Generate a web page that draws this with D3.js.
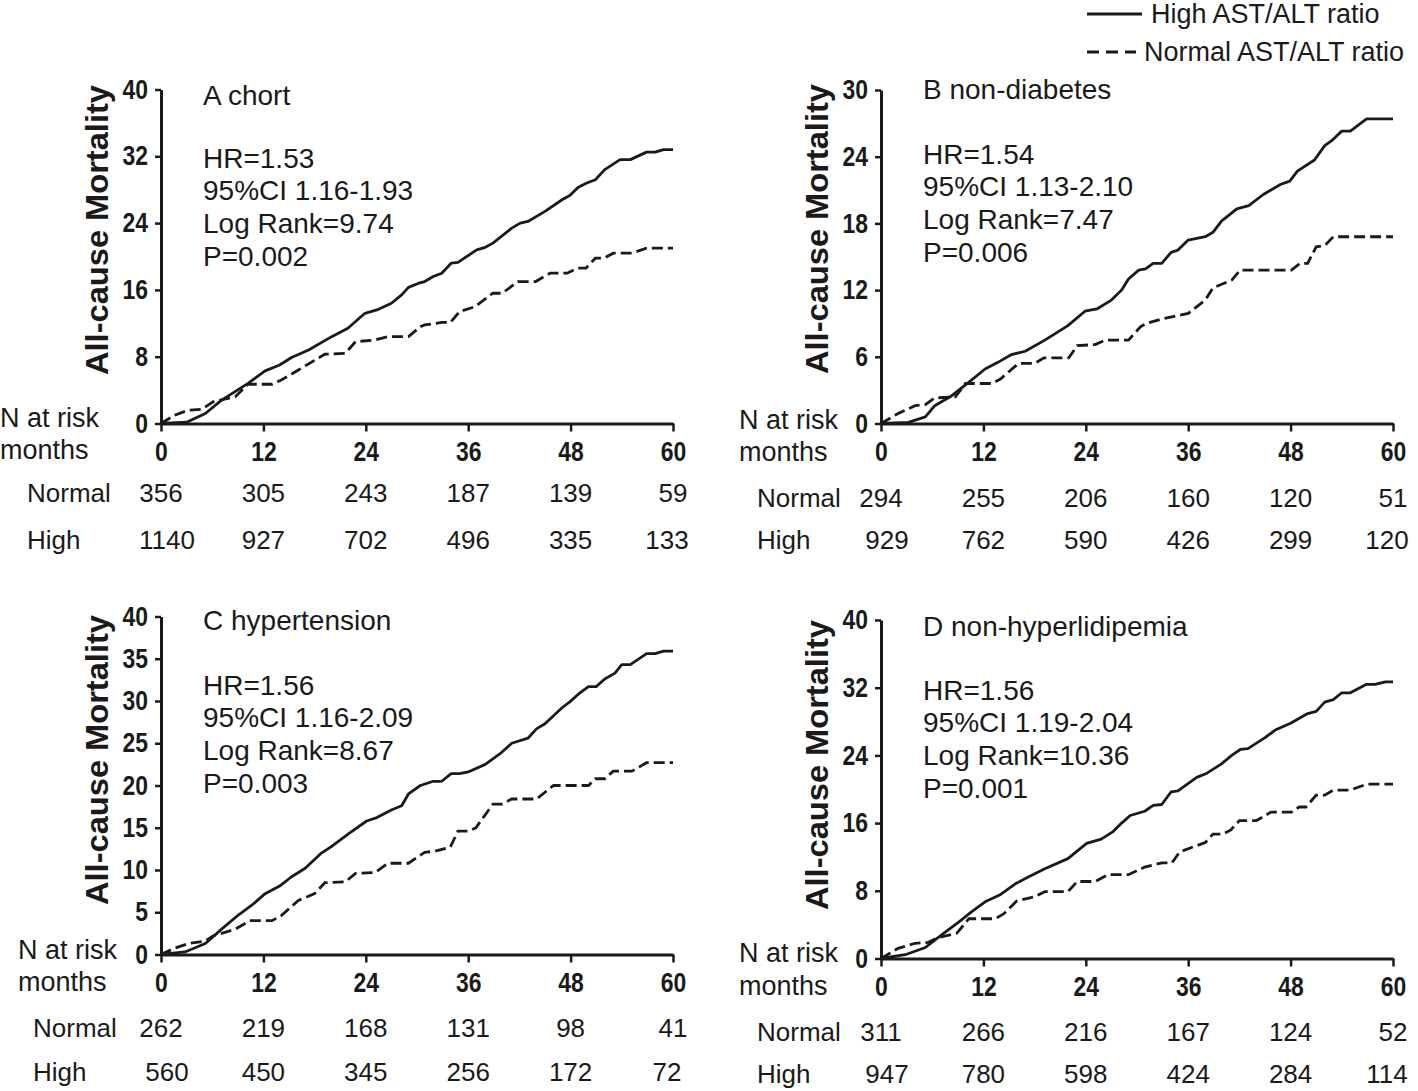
<!DOCTYPE html>
<html><head><meta charset="utf-8">
<script src="https://cdn.jsdelivr.net/npm/d3@7"></script>
<style>
body{margin:0;background:#fff;}
text{font-family:"Liberation Sans",Arial,sans-serif;fill:#1a1a1a;}
</style></head>
<body>
<svg id="c" width="1418" height="1091"></svg>
<script>
// ---------- data ----------
const monthTicks = [0, 12, 24, 36, 48, 60];
const panelTitles = ["A chort", "B non-diabetes", "C hypertension", "D non-hyperlidipemia"];
const statsA = ["HR=1.53", "95%CI 1.16-1.93", "Log Rank=9.74", "P=0.002"];
const statsB = ["HR=1.54", "95%CI 1.13-2.10", "Log Rank=7.47", "P=0.006"];
const statsC = ["HR=1.56", "95%CI 1.16-2.09", "Log Rank=8.67", "P=0.003"];
const statsD = ["HR=1.56", "95%CI 1.19-2.04", "Log Rank=10.36", "P=0.001"];
const yMaxes = [40, 30, 40, 40];
const yStepTicks = [[0,8,16,24,32,40],[0,6,12,18,24,30],[0,5,10,15,20,25,30,35,40],[0,8,16,24,32,40]];
const riskNormalA = [356, 305, 243, 187, 139, 59];
const riskHighA   = [1140, 927, 702, 496, 335, 133];
const riskNormalB = [294, 255, 206, 160, 120, 51];
const riskHighB   = [929, 762, 590, 426, 299, 120];
const riskNormalC = [262, 219, 168, 131, 98, 41];
const riskHighC   = [560, 450, 345, 256, 172, 72];
const riskNormalD = [311, 266, 216, 167, 124, 52];
const riskHighD   = [947, 780, 598, 424, 284, 114];
const legendLabels = ["High AST/ALT ratio", "Normal AST/ALT ratio"];

const highA = [[0,0],[3,0.15],[5.2,1.2],[7.1,2.8],[10.2,4.8],[12.2,6.3],[13.9,7.0],[15.3,7.9],[17.3,8.8],[20,10.4],[21.9,11.4],[23.9,13.2],[25.3,13.6],[27,14.4],[28.2,15.4],[29,16.3],[30.2,16.8],[30.9,17.0],[31.9,17.6],[32.9,18.0],[34,19.2],[34.8,19.3],[37,20.8],[38,21.1],[38.9,21.6],[41.1,23.4],[42.1,24.0],[43,24.2],[45,25.4],[47,26.8],[47.9,27.3],[48.9,28.3],[49.9,28.8],[50.9,29.2],[52,30.4],[53.8,31.6],[55,31.6],[56.9,32.5],[57.9,32.5],[58.9,32.8],[60,32.8]];
const normalA = [[0,0],[1.6,1.0],[3.2,1.6],[4.8,1.7],[6.1,2.6],[8.7,3.2],[10.2,4.7],[13,4.7],[14.1,5.2],[16.1,6.4],[19.2,8.3],[21.6,8.4],[22.8,9.8],[25.1,10.0],[26.6,10.4],[29,10.4],[30.4,11.6],[30.9,11.8],[32.9,12.1],[33.9,12.1],[35,13.4],[36.8,14.0],[38.9,15.6],[40,15.6],[41.8,17.0],[43.9,17.0],[45.6,18.0],[47.6,18.0],[48.8,18.6],[49.8,18.6],[50.9,19.8],[51.9,19.8],[53,20.4],[55.2,20.4],[56.9,21.0],[60,21.0]];
const highB = [[0,0],[3.2,0.1],[5.2,0.6],[6.3,1.6],[8.3,2.5],[10.6,3.9],[12.2,4.9],[13.7,5.5],[15.3,6.2],[16.9,6.5],[19.2,7.5],[21.9,8.8],[23.9,10.1],[25.3,10.3],[27,11.1],[28.2,12.0],[29,13.0],[30.2,13.8],[31,13.9],[31.9,14.4],[32.9,14.4],[34,15.4],[34.8,15.6],[36,16.5],[38,16.8],[38.9,17.2],[39.9,18.2],[41.7,19.3],[43.1,19.6],[44.8,20.6],[46.8,21.5],[47.9,21.8],[48.8,22.7],[50.8,23.7],[52,25.0],[52.9,25.5],[54,26.3],[55,26.3],[56.9,27.4],[60,27.4]];
const normalB = [[0,0],[2,0.9],[4,1.6],[5.2,1.7],[6.3,2.3],[8.7,2.4],[9.9,3.6],[13,3.6],[14,4.0],[16.1,5.4],[18,5.4],[19.1,5.9],[22,5.9],[23,7.0],[25.1,7.1],[26.3,7.5],[29,7.5],[30.4,8.7],[31.1,9.0],[32.9,9.4],[36,9.9],[38,11.1],[38.9,12.2],[41.1,12.9],[42.1,13.8],[48.1,13.8],[49.1,14.4],[50,14.4],[51,15.9],[52,16.0],[53,16.8],[60,16.8]];
const highC = [[0,0],[2.8,0.3],[5.2,1.3],[7.1,3.0],[9.1,4.7],[10.6,5.8],[12.2,7.2],[13.9,8.1],[15.3,9.2],[16.9,10.2],[18.8,12.0],[20,12.8],[22,14.3],[24.1,15.8],[25.3,16.2],[27,17.1],[28.2,17.6],[29,19.0],[30.4,20.0],[31.9,20.5],[32.9,20.5],[34,21.4],[35,21.4],[36,21.6],[38,22.5],[39.9,23.9],[41.1,25.0],[43,25.6],[44,26.7],[45,27.3],[47,29.2],[47.9,29.9],[48.9,30.8],[50.1,31.7],[51,31.7],[52,32.6],[53.2,33.3],[54,34.3],[55,34.3],[56.9,35.6],[57.9,35.6],[58.9,35.9],[60,35.9]];
const normalC = [[0,0],[1.6,0.75],[3.2,1.3],[5.2,1.6],[6.1,2.2],[8.7,3.0],[10.4,4.0],[13,4.0],[14.1,4.6],[16.1,6.4],[18,7.2],[19.2,8.5],[21.6,8.6],[22.8,9.6],[25.1,9.7],[26.6,10.8],[29,10.8],[30.9,12.1],[32,12.2],[33.9,12.7],[34.8,14.6],[36,14.6],[36.9,15.0],[38.9,17.8],[40,17.8],[41.1,18.4],[44,18.4],[46,20.0],[50.1,20.0],[50.9,20.8],[52,20.8],[53,21.7],[55.2,21.7],[56.9,22.7],[60,22.7]];
const highD = [[0,0],[3,0.5],[5.2,1.3],[7.1,2.8],[9.1,4.3],[10.6,5.5],[12.2,6.7],[13.9,7.5],[15.7,8.8],[17.2,9.6],[19.2,10.6],[21.9,11.8],[24.1,13.6],[25.8,14.1],[27.2,15.0],[28.2,16.0],[29.2,16.9],[30.9,17.4],[31.9,18.1],[32.9,18.2],[34,19.7],[34.8,19.8],[37,21.4],[38.2,21.9],[39.9,23.0],[41.1,24.0],[42.1,24.7],[43,24.8],[45,26.1],[46.2,27.0],[48,27.8],[49.9,28.9],[51,29.2],[52,30.3],[53,30.6],[54,31.4],[55,31.4],[56.9,32.4],[57.9,32.4],[59.1,32.7],[60,32.7]];
const normalD = [[0,0],[2,1.2],[4,1.8],[5.5,1.9],[6.5,2.4],[8.9,3.0],[10.3,4.7],[13.4,4.7],[14.4,5.3],[15.9,6.8],[18,7.3],[19.2,7.9],[21.9,7.9],[23,9.1],[25.1,9.1],[26.6,9.9],[29,9.9],[30.9,10.8],[32.9,11.3],[34.1,11.3],[35,12.6],[36.9,13.3],[38,13.7],[38.9,14.7],[40.1,14.7],[41,15.2],[42,16.3],[44,16.3],[45.7,17.3],[48.1,17.3],[49,17.9],[49.8,17.9],[51,19.3],[52,19.3],[53,19.9],[55,19.9],[56.9,20.6],[60,20.6]];

// ---------- layout ----------
const panels = [
  {title:panelTitles[0], stats:statsA, high:highA, normal:normalA, rn:riskNormalA, rh:riskHighA, ymax:yMaxes[0], yt:yStepTicks[0],
   x0:161, x1:673, yb:423.5, yt0:89.5, titleY:95, statY:158, rowN:493, rowH:540, nar:418, mon:450, labX:0, rowLabX:27, ylabX:97, ylabY:230},
  {title:panelTitles[1], stats:statsB, high:highB, normal:normalB, rn:riskNormalB, rh:riskHighB, ymax:yMaxes[1], yt:yStepTicks[1],
   x0:881, x1:1393, yb:423.5, yt0:90, titleY:89, statY:154, rowN:498, rowH:540, nar:420, mon:452, labX:739, rowLabX:757, ylabX:817, ylabY:229},
  {title:panelTitles[2], stats:statsC, high:highC, normal:normalC, rn:riskNormalC, rh:riskHighC, ymax:yMaxes[2], yt:yStepTicks[2],
   x0:161, x1:673, yb:954.5, yt0:616.5, titleY:620, statY:685, rowN:1028, rowH:1072, nar:950, mon:982, labX:18, rowLabX:33, ylabX:97, ylabY:760},
  {title:panelTitles[3], stats:statsD, high:highD, normal:normalD, rn:riskNormalD, rh:riskHighD, ymax:yMaxes[3], yt:yStepTicks[3],
   x0:881, x1:1393, yb:958.5, yt0:620, titleY:626, statY:690, rowN:1032, rowH:1074, nar:953, mon:986, labX:739, rowLabX:757, ylabX:817, ylabY:765}
];

const svg = d3.select("#c");
const ink = "#1a1a1a";

panels.forEach(p => {
  const x = d3.scaleLinear().domain([0,60]).range([p.x0, p.x1]);
  const y = d3.scaleLinear().domain([0,p.ymax]).range([p.yb, p.yt0]);
  const g = svg.append("g");

  // axes
  const ya = g.append("g").attr("transform",`translate(${p.x0},0)`)
    .call(d3.axisLeft(y).tickValues(p.yt).tickSize(6).tickSizeOuter(0).tickPadding(7).tickFormat(d3.format("d")));
  const xa = g.append("g").attr("transform",`translate(0,${p.yb})`)
    .call(d3.axisBottom(x).tickValues(monthTicks).tickSize(8).tickSizeOuter(0).tickPadding(10).tickFormat(d3.format("d")));
  [ya, xa].forEach(a => {
    a.select(".domain").attr("stroke", ink).attr("stroke-width", 3);
    a.selectAll(".tick line").attr("stroke", ink).attr("stroke-width", 2.5);
    a.selectAll(".tick text").attr("font-size", 27).attr("font-weight", "bold")
      .attr("font-family", "'Liberation Sans',Arial,sans-serif").attr("fill", ink);
  });
  // condensed look of the tick numerals
  xa.selectAll(".tick text").attr("transform","scale(0.85,1)");
  ya.selectAll(".tick text").attr("x", -13 / 0.85).attr("transform","scale(0.85,1)");

  // curves
  const line = d3.line().x(d => x(d[0])).y(d => y(d[1]));
  g.append("path").datum(p.high).attr("d", line).attr("fill","none").attr("stroke",ink)
    .attr("stroke-width",2.8).attr("stroke-linejoin","round");
  g.append("path").datum(p.normal).attr("d", line).attr("fill","none").attr("stroke",ink)
    .attr("stroke-width",2.8).attr("stroke-dasharray","11,5");

  // y label
  g.append("text").attr("transform",`translate(${p.ylabX},${p.ylabY}) rotate(-90)`)
    .attr("text-anchor","middle").attr("dominant-baseline","central")
    .attr("font-size",31).attr("font-weight","bold")
    .attr("textLength",290).attr("lengthAdjust","spacingAndGlyphs").text("All-cause Mortality");

  // title and stats
  const tx = p.x0 + 42;
  g.append("text").attr("x", tx).attr("y", p.titleY).attr("dominant-baseline","central")
    .attr("font-size",28).text(p.title);
  p.stats.forEach((s,i) => {
    g.append("text").attr("x", tx).attr("y", p.statY + i*32.7).attr("dominant-baseline","central")
      .attr("font-size",28).text(s);
  });

  // risk table
  g.append("text").attr("x",p.labX).attr("y",p.nar).attr("dominant-baseline","central").attr("font-size",27).text("N at risk");
  g.append("text").attr("x",p.labX).attr("y",p.mon).attr("dominant-baseline","central").attr("font-size",27).text("months");
  g.append("text").attr("x",p.rowLabX).attr("y",p.rowN).attr("dominant-baseline","central").attr("font-size",26).text("Normal");
  g.append("text").attr("x",p.rowLabX).attr("y",p.rowH).attr("dominant-baseline","central").attr("font-size",26).text("High");
  g.selectAll(null).data(p.rn).enter().append("text")
    .attr("x",(d,i)=>x(monthTicks[i])).attr("y",p.rowN).attr("text-anchor","middle")
    .attr("dominant-baseline","central").attr("font-size",26).text(d=>d);
  g.selectAll(null).data(p.rh).enter().append("text")
    .attr("x",(d,i)=>x(monthTicks[i]) + (i===0?6:(i===5?-6:0))).attr("y",p.rowH).attr("text-anchor","middle")
    .attr("dominant-baseline","central").attr("font-size",26).text(d=>d);
});

// legend
const lg = svg.append("g");
lg.append("line").attr("x1",1087).attr("x2",1142).attr("y1",14).attr("y2",14).attr("stroke",ink).attr("stroke-width",2.8);
lg.append("line").attr("x1",1087).attr("x2",1136).attr("y1",52).attr("y2",52).attr("stroke",ink).attr("stroke-width",2.8).attr("stroke-dasharray","12,7");
lg.append("text").attr("x",1151).attr("y",14).attr("dominant-baseline","central").attr("font-size",27).text(legendLabels[0]);
lg.append("text").attr("x",1144).attr("y",52).attr("dominant-baseline","central").attr("font-size",27).text(legendLabels[1]);
</script>
</body></html>
